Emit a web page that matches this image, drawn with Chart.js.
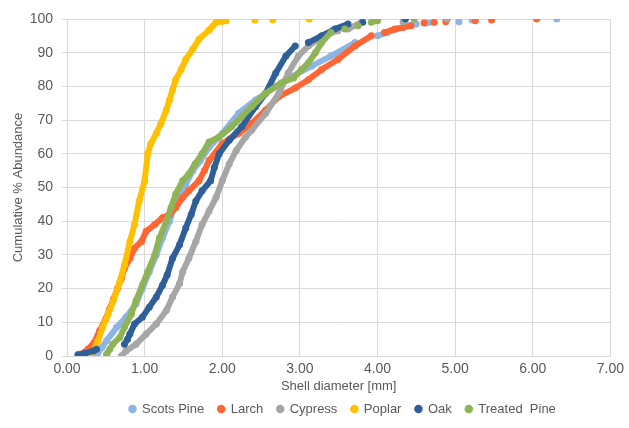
<!DOCTYPE html>
<html>
<head>
<meta charset="utf-8">
<script src="https://cdn.jsdelivr.net/npm/chart.js@4"></script>
<style>
  html, body { margin: 0; padding: 0; background: #fff; }
  #wrap { width: 629px; height: 428px; }
</style>
</head>
<body>
<div id="wrap"><canvas id="graph" width="629" height="428"></canvas></div>
<script>
// Shell diameter [mm] vs cumulative % abundance
const scotsPineX = [0.33, 0.40, 0.45, 0.51, 0.64, 0.76, 0.89, 0.97, 1.06, 1.15, 1.23, 1.32, 1.38, 1.45, 1.53, 1.62, 1.72, 1.83, 2.00, 2.21, 2.43, 2.69, 2.90, 3.15, 3.40, 3.71, 4.00, 4.13, 4.25, 4.39, 4.50, 4.62, 4.73, 5.05, 5.22, 6.31];
const scotsPineY = [0.5, 1, 2.5, 4.5, 8.5, 11.5, 15.5, 20, 25, 30, 35, 40, 44, 47, 51, 55, 58, 62, 66, 72, 76, 80, 83, 86, 89, 93, 95, 96, 97, 98, 98.5, 98.8, 99, 99.2, 99.7, 100];

const larchX = [0.15, 0.22, 0.27, 0.35, 0.42, 0.50, 0.55, 0.60, 0.65, 0.70, 0.74, 0.81, 0.87, 0.96, 1.02, 1.13, 1.23, 1.32, 1.40, 1.49, 1.57, 1.70, 1.77, 1.83, 2.00, 2.10, 2.21, 2.38, 2.56, 2.73, 2.94, 3.11, 3.28, 3.49, 3.71, 3.92, 4.09, 4.22, 4.33, 4.43, 4.60, 4.73, 4.88, 5.26, 5.47, 6.05];
const larchY = [0.5, 1, 2, 4, 7.5, 11, 14, 17, 20, 23, 26, 29, 32, 34, 37, 39, 41, 42, 44, 47, 49, 52, 55, 58, 63, 64.5, 66, 69, 73, 77, 79.5, 82, 85, 88, 92, 95, 96, 97, 97.5, 98, 98.8, 99, 99.2, 99.5, 99.7, 100];

const cypressX = [0.70, 0.76, 0.89, 1.02, 1.15, 1.28, 1.36, 1.45, 1.49, 1.57, 1.66, 1.74, 1.83, 1.92, 2.00, 2.09, 2.18, 2.30, 2.38, 2.56, 2.73, 2.85, 2.98, 3.11, 3.24, 3.40, 3.49, 3.62, 3.79, 4.33, 4.90];
const cypressY = [0, 1.5, 3.5, 6.5, 9.5, 13.5, 17.5, 21.5, 25, 29, 34, 39, 43, 47, 52, 57, 61, 65, 67, 72, 78, 84, 89, 92, 94, 96, 96.5, 97, 99, 99.2, 100];

const poplarX = [0.25, 0.30, 0.34, 0.40, 0.46, 0.53, 0.59, 0.68, 0.74, 0.81, 0.87, 0.93, 1.00, 1.04, 1.08, 1.15, 1.21, 1.28, 1.32, 1.36, 1.40, 1.47, 1.53, 1.62, 1.70, 1.83, 1.92, 2.00, 2.05, 2.42, 2.65, 3.12];
const poplarY = [0, 0.5, 1.5, 4.5, 8.5, 12.5, 16, 22, 27, 34, 39, 46, 52, 60, 63, 66, 69, 73, 76, 79, 82, 85, 88, 91, 94, 96.7, 99, 99.3, 99.5, 99.7, 99.8, 100];

const oakX = [0.14, 0.23, 0.34, 0.38, 0.74, 0.78, 0.81, 0.87, 0.97, 1.06, 1.15, 1.23, 1.29, 1.36, 1.45, 1.53, 1.60, 1.66, 1.74, 1.85, 1.90, 1.96, 2.09, 2.25, 2.43, 2.56, 2.69, 2.82, 2.94, 3.11, 3.28, 3.45, 3.62, 3.81, 4.36];
const oakY = [0.3, 0.8, 1.5, 2, 3.5, 5, 6.5, 9.5, 11.5, 14.5, 17.5, 21, 24, 29, 33, 38, 42, 46, 49, 52, 56, 60, 64, 68, 74, 78, 84, 89, 92, 93, 95, 97, 98.5, 99, 100];

const treatedPineX = [0.51, 0.55, 0.59, 0.68, 0.74, 0.83, 0.89, 0.97, 1.04, 1.13, 1.19, 1.28, 1.34, 1.40, 1.49, 1.57, 1.65, 1.74, 1.83, 1.96, 2.12, 2.25, 2.38, 2.56, 2.76, 2.92, 3.02, 3.11, 3.20, 3.28, 3.40, 3.58, 3.75, 3.92, 4.00, 4.47];
const treatedPineY = [0.5, 2, 3.5, 5.5, 8.5, 12.5, 16.5, 21, 25, 30, 35, 40, 44, 48, 52, 54, 57, 60, 63.5, 65, 68, 71, 74, 78, 81, 82.5, 85, 87, 90, 93, 96, 97, 98, 99, 99.5, 100];

const seriesNames = ['Scots Pine', 'Larch', 'Cypress', 'Poplar', 'Oak', 'Treated  Pine'];
const seriesColors = ['#8db4e2', '#ff6633', '#a6a6a6', '#ffc000', '#2f5f98', '#8fb455'];
const seriesX = [scotsPineX, larchX, cypressX, poplarX, oakX, treatedPineX];
const seriesY = [scotsPineY, larchY, cypressY, poplarY, oakY, treatedPineY];

const xTicks = [0, 1, 2, 3, 4, 5, 6, 7];
const yTicks = [0, 10, 20, 30, 40, 50, 60, 70, 80, 90, 100];

// Hide the connecting stroke where the dots are spread out sideways
const gap = ctx => {
  const dx = Math.abs(ctx.p1.x - ctx.p0.x);
  const dy = Math.abs(ctx.p1.y - ctx.p0.y);
  return dx > 9 && dy < dx * 0.3 ? 'transparent' : undefined;
};

const datasets = seriesNames.map((name, i) => ({
  label: name,
  data: seriesX[i].map((x, j) => ({ x: x, y: seriesY[i][j] })),
  showLine: true,
  borderColor: seriesColors[i],
  backgroundColor: seriesColors[i],
  borderWidth: 6,
  borderCapStyle: 'round',
  borderJoinStyle: 'round',
  pointRadius: 3.5,
  pointBorderWidth: 0,
  order: seriesNames.length - i,
  segment: { borderColor: gap }
}));

// Centre the legend under the plot area and set its row height
const legendUnderPlot = {
  id: 'legendUnderPlot',
  afterLayout(chart) {
    const lg = chart.legend;
    const shift = (chart.chartArea.left + chart.chartArea.right) / 2 - (lg.left + lg.right) / 2 + 4;
    lg.left += shift;
    lg.right += shift;
    const h = lg.bottom - lg.top;
    lg.top = 407 - h / 2;
    lg.bottom = lg.top + h;
  }
};

const ctx = document.getElementById('graph').getContext('2d');
new Chart(ctx, {
  type: 'scatter',
  data: { datasets: datasets },
  plugins: [legendUnderPlot],
  options: {
    responsive: false,
    animation: false,
    layout: { padding: { left: 0, right: 15, top: 19, bottom: -3 } },
    scales: {
      x: {
        type: 'linear',
        min: 0,
        max: 7,
        afterBuildTicks: scale => { scale.ticks = xTicks.map(v => ({ value: v })); },
        afterFit: scale => { scale.height = 38; },
        ticks: {
          callback: v => v.toFixed(2),
          color: '#595959',
          font: { family: 'Liberation Sans', size: 14 },
          padding: 5
        },
        grid: { color: '#d9d9d9', drawTicks: false },
        border: { color: '#d9d9d9' },
        title: {
          display: true,
          text: 'Shell diameter [mm]',
          color: '#595959',
          font: { family: 'Liberation Sans', size: 13 },
          padding: { top: 2, bottom: 0 }
        }
      },
      y: {
        min: 0,
        max: 100,
        afterBuildTicks: scale => { scale.ticks = yTicks.map(v => ({ value: v })); },
        afterFit: scale => { scale.width = 67; },
        ticks: {
          color: '#595959',
          font: { family: 'Liberation Sans', size: 14 },
          padding: 9
        },
        grid: { color: '#d9d9d9', tickLength: 5 },
        border: { color: '#d9d9d9' },
        title: {
          display: true,
          text: 'Cumulative % Abundance',
          color: '#595959',
          font: { family: 'Liberation Sans', size: 13 },
          padding: { top: 11, bottom: 0 }
        }
      }
    },
    plugins: {
      tooltip: { enabled: false },
      legend: {
        position: 'bottom',
        labels: {
          usePointStyle: true,
          pointStyle: 'circle',
          boxWidth: 6,
          boxHeight: 6,
          padding: 14,
          color: '#595959',
          font: { family: 'Liberation Sans', size: 13 },
          sort: (a, b) => a.datasetIndex - b.datasetIndex
        }
      }
    }
  }
});
</script>
</body>
</html>
